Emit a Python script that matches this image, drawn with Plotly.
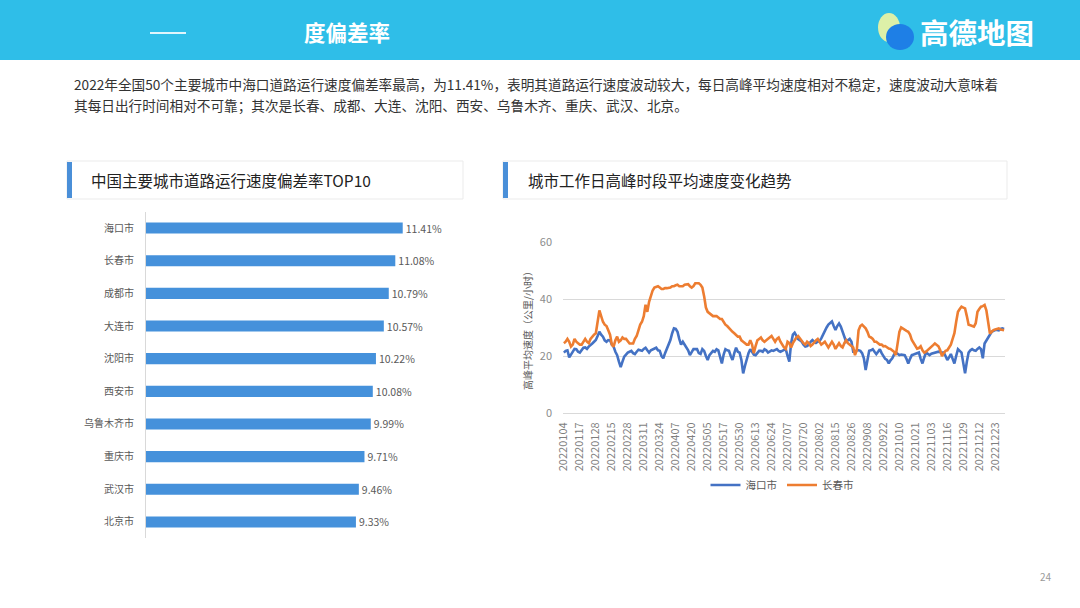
import plotly.graph_objects as go

W, H = 1080, 608


def px(x):
    return x / W


def py(y):
    return 1 - y / H


FONT = "Noto Sans CJK SC"

# ---------------- data ----------------
cities = ["海口市", "长春市", "成都市", "大连市", "沈阳市",
          "西安市", "乌鲁木齐市", "重庆市", "武汉市", "北京市"]
deviation = [11.41, 11.08, 10.79, 10.57, 10.22, 10.08, 9.99, 9.71, 9.46, 9.33]

date_ticks = ["20220104", "20220117", "20220128", "20220215", "20220228", "20220311",
              "20220324", "20220407", "20220420", "20220505", "20220517", "20220530",
              "20220613", "20220624", "20220707", "20220720", "20220802", "20220815",
              "20220826", "20220908", "20220922", "20221010", "20221021", "20221103",
              "20221116", "20221129", "20221212", "20221223"]

haikou = [
    21.2, 21.8, 22.0, 19.5, 20.5, 21.8, 22.5, 22.4, 21.5, 21.2,
    22.0, 22.9, 23.0, 22.5, 23.3, 24.0, 24.4, 25.0, 25.6, 27.0,
    28.5, 27.5, 26.8, 25.5, 25.0, 25.6, 25.5, 24.0, 23.3, 21.5,
    20.3, 18.0, 16.1, 18.0, 19.8, 20.5, 21.2, 21.5, 21.8, 21.0,
    20.7, 21.5, 22.2, 22.0, 21.8, 22.5, 22.9, 22.0, 21.2, 22.0,
    22.4, 22.5, 22.9, 22.0, 21.8, 20.0, 19.2, 21.0, 22.4, 24.0,
    25.6, 28.0, 29.7, 29.5, 28.5, 26.0, 24.0, 25.0, 24.0, 23.3,
    22.0, 20.3, 21.5, 22.4, 22.4, 22.4, 21.0, 20.7, 22.4, 21.8,
    20.0, 18.6, 20.3, 21.2, 21.8, 21.5, 22.4, 22.0, 19.5, 17.4,
    20.5, 22.4, 22.0, 21.8, 20.0, 18.6, 21.0, 22.9, 21.5, 21.2,
    18.6, 13.9, 16.5, 19.2, 21.0, 22.4, 21.5, 20.5, 20.3, 21.0,
    21.8, 21.8, 21.5, 22.4, 22.0, 21.2, 21.5, 22.0, 21.8, 22.0,
    22.4, 21.8, 21.5, 21.8, 22.0, 22.4, 20.0, 18.0, 24.5, 27.5,
    28.2, 27.0, 25.9, 25.5, 25.0, 24.0, 23.3, 23.5, 24.0, 25.0,
    25.6, 25.0, 24.6, 25.0, 25.2, 26.2, 27.5, 29.1, 30.0, 31.0,
    31.5, 32.1, 30.5, 29.1, 30.5, 31.4, 30.3, 28.5, 27.4, 25.0,
    25.5, 26.0, 25.0, 21.5, 21.5, 22.0, 22.0, 21.8, 21.0, 19.2,
    15.1, 18.5, 21.8, 22.0, 22.4, 21.5, 20.7, 21.5, 22.4, 21.0,
    19.8, 19.0, 18.6, 17.4, 18.5, 19.2, 20.5, 21.2, 20.8, 20.3,
    20.5, 20.3, 20.3, 19.0, 17.4, 19.0, 20.3, 20.5, 20.7, 21.0,
    21.2, 19.0, 17.4, 19.5, 21.2, 20.8, 20.3, 20.8, 21.0, 21.2,
    21.3, 21.5, 21.3, 21.2, 21.2, 20.0, 18.6, 19.5, 20.7, 19.0,
    17.4, 20.0, 22.4, 21.8, 21.2, 17.5, 13.9, 18.0, 21.2, 22.0,
    22.4, 22.0, 21.8, 22.5, 23.0, 22.4, 19.2, 24.4, 25.5, 26.8,
    27.5, 28.5, 28.8, 29.1, 29.1, 29.0, 29.5, 29.7, 29.5,
]

changchun = [
    24.5, 25.0, 26.0, 25.0, 23.3, 24.0, 26.0, 25.0, 24.5, 24.0,
    24.0, 25.0, 26.0, 25.0, 24.5, 26.0, 27.0, 27.5, 28.0, 32.0,
    36.0, 34.0, 32.0, 31.0, 30.5, 29.0, 27.5, 24.0, 23.3, 25.5,
    26.8, 25.0, 25.5, 26.5, 26.0, 26.0, 25.0, 24.4, 24.4, 24.4,
    26.0, 27.0, 29.0, 31.0, 32.0, 34.0, 38.0, 35.5, 39.0, 41.4,
    43.0, 44.0, 44.2, 44.5, 44.0, 43.5, 43.5, 43.8, 43.8, 44.0,
    44.0, 44.5, 44.5, 44.8, 45.0, 44.5, 44.5, 44.5, 45.0, 45.2,
    45.2, 44.5, 44.0, 44.5, 45.5, 45.5, 45.5, 45.0, 44.0, 41.0,
    37.0, 35.5, 35.0, 34.5, 34.0, 34.0, 34.0, 33.5, 33.0, 33.0,
    32.0, 31.0, 30.5, 29.7, 29.0, 28.5, 28.0, 27.5, 26.8, 26.8,
    25.5, 25.0, 24.5, 24.0, 24.0, 25.5, 24.0, 21.0, 23.5, 25.5,
    26.0, 26.5, 25.5, 25.0, 25.5, 26.0, 26.5, 27.0, 26.0, 25.0,
    26.0, 26.5, 25.0, 24.0, 23.0, 22.5, 25.0, 24.5, 23.0, 24.5,
    25.5, 26.5, 27.0, 26.0, 25.5, 24.5, 24.0, 25.0, 24.5, 23.5,
    24.0, 25.0, 25.5, 26.0, 25.0, 24.0, 24.5, 25.0, 24.0, 23.0,
    24.0, 25.0, 24.0, 22.5, 23.5, 24.5, 23.5, 23.0, 24.5, 25.5,
    24.5, 24.0, 23.8, 23.0, 20.3, 22.0, 29.0, 30.5, 31.0, 30.5,
    29.7, 28.5, 26.8, 26.5, 26.0, 25.0, 25.0, 24.5, 24.0, 24.0,
    23.4, 23.5, 23.0, 22.6, 22.5, 22.0, 21.5, 20.3, 24.0, 28.5,
    30.0, 29.5, 29.0, 28.8, 28.5, 27.5, 25.6, 24.5, 23.5, 22.6,
    22.8, 23.4, 22.0, 21.2, 21.5, 22.0, 22.6, 23.0, 23.8, 24.4,
    24.0, 23.4, 22.0, 20.0, 21.0, 21.8, 22.0, 23.0, 24.0, 26.0,
    28.0, 32.0, 35.5, 36.5, 37.3, 37.0, 36.7, 34.0, 31.0, 30.8,
    30.5, 30.3, 31.5, 35.5, 36.5, 37.3, 37.5, 37.9, 36.0, 31.0,
    27.9, 28.5, 29.1, 29.3, 29.5, 29.7, 29.3, 29.1, 29.0,
]

y_ticks = [0, 20, 40, 60]

dev_labels = [f"{v:.2f}%" for v in deviation]
day_index = list(range(len(haikou)))
tick_step = 9
tick_positions = [k * tick_step for k in range(len(date_ticks))]

# ---------------- figure ----------------
fig = go.Figure()

fig.add_trace(go.Bar(
    x=deviation, y=cities, orientation="h",
    marker=dict(color="#4591DB", line=dict(width=0)),
    width=0.34,
    text=dev_labels, textposition="outside", constraintext="none",
    textfont=dict(size=10.5, color="#595959", family=FONT),
    cliponaxis=False, showlegend=False, hoverinfo="skip",
    xaxis="x", yaxis="y",
))

fig.add_trace(go.Scatter(
    x=day_index, y=haikou, mode="lines", name="海口市",
    line=dict(color="#4472C4", width=2.6),
    xaxis="x2", yaxis="y2",
))
fig.add_trace(go.Scatter(
    x=day_index, y=changchun, mode="lines", name="长春市",
    line=dict(color="#ED7D31", width=2.6),
    xaxis="x2", yaxis="y2",
))

shapes = [
    # header band
    dict(type="rect", xref="paper", yref="paper", x0=0, x1=1, y0=py(60), y1=1,
         fillcolor="#2FBEE8", line=dict(width=0), layer="below"),
    dict(type="line", xref="paper", yref="paper", x0=px(150), x1=px(186), y0=py(33), y1=py(33),
         line=dict(color="rgba(255,255,255,0.85)", width=2)),
    # logo icon
    dict(type="circle", xref="paper", yref="paper", x0=px(878), x1=px(900), y0=py(42), y1=py(13),
         fillcolor="#DDF0A8", line=dict(width=0)),
    dict(type="circle", xref="paper", yref="paper", x0=px(886), x1=px(914), y0=py(50), y1=py(24),
         fillcolor="#1E7FE6", line=dict(width=0)),
    # panel title boxes
    dict(type="rect", xref="paper", yref="paper", x0=px(67), x1=px(463), y0=py(199), y1=py(161),
         fillcolor="white", line=dict(color="#ebebeb", width=1), layer="below"),
    dict(type="rect", xref="paper", yref="paper", x0=px(67), x1=px(72), y0=py(198), y1=py(162),
         fillcolor="#4A8FD8", line=dict(width=0)),
    dict(type="rect", xref="paper", yref="paper", x0=px(503), x1=px(1007), y0=py(199), y1=py(161),
         fillcolor="white", line=dict(color="#ebebeb", width=1), layer="below"),
    dict(type="rect", xref="paper", yref="paper", x0=px(503), x1=px(508), y0=py(198), y1=py(162),
         fillcolor="#4A8FD8", line=dict(width=0)),
]

annotations = [
    dict(text="<b>度偏差率</b>", x=px(302), y=py(32), xanchor="left", yanchor="middle",
         font=dict(size=21.5, color="white", family=FONT)),
    dict(text="<b>高德地图</b>", x=px(918), y=py(32), xanchor="left", yanchor="middle",
         font=dict(size=28.5, color="white", family=FONT)),
    dict(text="2022年全国50个主要城市中海口道路运行速度偏差率最高，为11.41%，表明其道路运行速度波动较大，每日高峰平均速度相对不稳定，速度波动大意味着",
         x=px(72), y=py(84), xanchor="left", yanchor="middle",
         font=dict(size=13.65, color="#333333", family=FONT)),
    dict(text="其每日出行时间相对不可靠；其次是长春、成都、大连、沈阳、西安、乌鲁木齐、重庆、武汉、北京。",
         x=px(72), y=py(105), xanchor="left", yanchor="middle",
         font=dict(size=13.65, color="#333333", family=FONT)),
    dict(text="中国主要城市道路运行速度偏差率TOP10", x=px(89), y=py(180), xanchor="left", yanchor="middle",
         font=dict(size=15.5, color="#222222", family=FONT)),
    dict(text="城市工作日高峰时段平均速度变化趋势", x=px(526), y=py(180), xanchor="left", yanchor="middle",
         font=dict(size=15.5, color="#222222", family=FONT)),
    dict(text="高峰平均速度（公里/小时）", x=px(527), y=py(328), xanchor="center", yanchor="middle",
         textangle=-90, font=dict(size=10, color="#595959", family=FONT)),
    dict(text="24", x=px(1046), y=py(576), xanchor="center", yanchor="middle",
         font=dict(size=10, color="#9a9a9a", family=FONT)),
]
for a in annotations:
    a.update(xref="paper", yref="paper", showarrow=False)

fig.update_layout(
    width=W, height=H,
    margin=dict(l=0, r=0, t=0, b=0, pad=0, autoexpand=False),
    paper_bgcolor="white", plot_bgcolor="rgba(0,0,0,0)",
    font=dict(family=FONT, color="#595959"),
    shapes=shapes, annotations=annotations,
    xaxis=dict(domain=[px(146), px(461)], range=[0, 14], visible=False,
               fixedrange=True, automargin=False),
    yaxis=dict(domain=[py(538.3), py(211.7)], type="category",
               categoryorder="array", categoryarray=cities, range=[9.5, -0.5],
               showline=True, linecolor="#d9d9d9", linewidth=1, ticks="",
               showgrid=False, zeroline=False, ticklabelstandoff=9, automargin=False,
               tickfont=dict(size=10, color="#595959", family=FONT), anchor="x"),
    xaxis2=dict(domain=[px(563), px(1005)], range=[-0.5, len(haikou) - 0.5],
                tickmode="array", tickvals=tick_positions, ticktext=date_ticks,
                tickangle=-90, ticks="", showgrid=False, zeroline=False,
                showline=True, linecolor="#d9d9d9", linewidth=1,
                ticklabelstandoff=4, automargin=False,
                tickfont=dict(size=11, color="#7f7f7f", family=FONT), anchor="y2"),
    yaxis2=dict(domain=[py(413), py(242)], range=[0, 60], tickmode="array", tickvals=y_ticks,
                showgrid=True, gridcolor="#d9d9d9", gridwidth=1, zeroline=False,
                showline=False, ticks="", ticklabelstandoff=10, automargin=False,
                tickfont=dict(size=11, color="#8c8c8c", family=FONT), anchor="x2"),
    legend=dict(orientation="h", x=px(782), xanchor="center", y=py(485), yanchor="middle",
                font=dict(size=10.5, color="#595959", family=FONT),
                itemwidth=30, bgcolor="rgba(0,0,0,0)"),
    showlegend=True,
)

fig.write_html(
    "out.html",
    config={"displayModeBar": False},
    post_script="document.body.style.margin='0';document.body.style.padding='0';"
                "document.documentElement.style.overflow='hidden';",
)
